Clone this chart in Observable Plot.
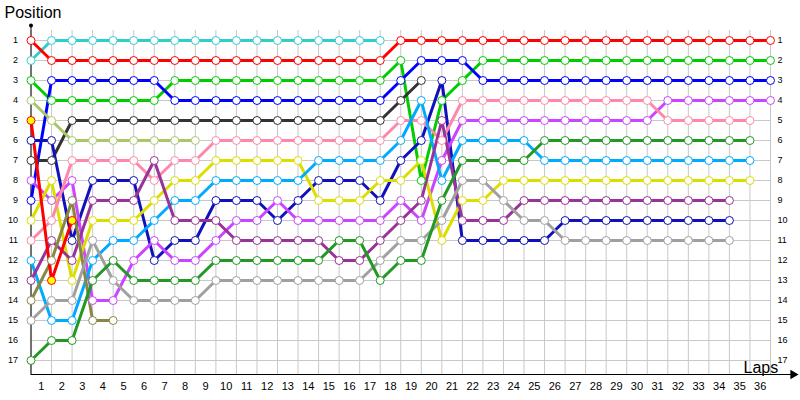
<!DOCTYPE html>
<html><head><meta charset="utf-8">
<script src="https://cdn.jsdelivr.net/npm/d3@7"></script>
<script src="https://cdn.jsdelivr.net/npm/@observablehq/plot@0.6"></script>
<style>body{margin:0;background:#fff} svg{display:block}</style>
</head><body><div id="chart"></div>
<script>
// Laps (x) and positions (y)
const laps = d3.range(0, 37);
const positions = d3.range(1, 18);
const lapLabels = d3.range(1, 37);

// Position of each driver at laps 0,1,2,... (until retirement / finish)
const red        = [1,2,2,2,2,2,2,2,2,2,2,2,2,2,2,2,2,2,1,1,1,1,1,1,1,1,1,1,1,1,1,1,1,1,1,1,1];
const cyan       = [2,1,1,1,1,1,1,1,1,1,1,1,1,1,1,1,1,1];
const green      = [3,4,4,4,4,4,4,3,3,3,3,3,3,3,3,3,3,3,2,8,4,3,2,2,2,2,2,2,2,2,2,2,2,2,2,2,2];
const blue       = [9,3,3,3,3,3,3,4,4,4,4,4,4,4,4,4,4,4,3,2,2,2,3,3,3,3,3,3,3,3,3,3,3,3,3,3,3];
const darkGrey   = [7,7,5,5,5,5,5,5,5,5,5,5,5,5,5,5,5,5,4,3];
const yellowGreen= [4,5,6,6,6,6,6,6,6];
const red2       = [5,13,10];
const navy       = [6,6,11,8,8,8,12,11,11,9,9,9,10,9,8,8,8,9,7,6,3,11,11,11,11,11,10,10,10,10,10,10,10,10,10];
const magenta    = [8,9,8,14,14,12,11,12,12,11,10,10,9,10,10,10,10,10,9,10,7,5,5,5,5,5,5,5,5,5,5,4,4,4,4,4,4];
const yellow     = [10,8,13,10,10,10,9,8,8,7,7,7,7,7,9,9,9,8,8,7,11,9,9,8,8,8,8,8,8,8,8,8,8,8,8,8];
const pink       = [11,10,7,7,7,7,8,7,7,6,6,6,6,6,6,6,6,6,5,5,6,4,4,4,4,4,4,4,4,4,4,5,5,5,5,5];
const lightBlue  = [12,15,15,12,11,11,10,9,9,8,8,8,8,8,7,7,7,7,6,4,8,6,6,6,6,7,7,7,7,7,7,7,7,7,7,7];
const purple     = [13,11,12,9,9,9,7,10,10,10,11,11,11,11,11,12,12,11,10,9,5,10,10,10,9,9,9,9,9,9,9,9,9,9,9];
const olive      = [14,12,9,15,15];
const grey       = [15,14,14,11,13,14,14,14,14,13,13,13,13,13,13,13,13,12,11,11,10,8,8,9,10,10,11,11,11,11,11,11,11,11,11];
const darkGreen  = [17,16,16,13,12,13,13,13,13,12,12,12,12,12,12,11,11,13,12,12,9,7,7,7,7,6,6,6,6,6,6,6,6,6,6,6];

const seriesNames  = ["cyan","red","green","blue","darkGrey","yellowGreen","navy","magenta","yellow","pink","lightBlue","purple","olive","grey","darkGreen","red2"];
const seriesValues = [cyan,red,green,blue,darkGrey,yellowGreen,navy,magenta,yellow,pink,lightBlue,purple,olive,grey,darkGreen,red2];
const seriesColors = ["#33cccc","#ff0000","#00cc00","#0000ff","#333333","#a8c868","#1111bb","#cc44ff","#dddd00","#ff88aa","#00aaff","#993399","#888844","#a0a0a0","#229922","#ff0000"];
const seriesFills  = ["#ffffff","#ffffff","#ffffff","#ffffff","#ffffff","#ffffff","#ffffff","#ffffff","#ffffff","#ffffff","#ffffff","#ffffff","#ffffff","#ffffff","#ffffff","#ffff00"];

const rows = seriesValues.flatMap((vals, s) => vals.map((p, i) => ({
  driver: seriesNames[s], lap: laps[i], pos: p, color: seriesColors[s], fill: seriesFills[s]
})));

const font = "Liberation Sans, Arial, sans-serif";

const chart = Plot.plot({
  width: 800, height: 400,
  marginLeft: 30.5, marginRight: 30, marginTop: 40, marginBottom: 40,
  style: {fontFamily: font, background: "#fff"},
  x: {domain: [0, 36], axis: null},
  y: {domain: [1, 17], reverse: true, axis: null},
  color: {type: "identity"},
  marks: [
    Plot.ruleX(laps, {x: d => d, y1: 0.5, y2: 17.7, stroke: "#c8c8c8", strokeWidth: 1}),
    Plot.ruleY(positions, {y: d => d, x1: 0, x2: 36, stroke: "#c8c8c8", strokeWidth: 1}),
    Plot.ruleX([0], {y1: 0.25, y2: 17.7, stroke: "#000", strokeWidth: 1}),
    Plot.dot([0], {x: 0, y: 0.25, r: 2, fill: "#000", stroke: null}),
    Plot.ruleY([17.7], {x1: 0, x2: 37.1, stroke: "#000", strokeWidth: 1}),
    Plot.dot([0], {x: 37.1, y: 17.7, symbol: "triangle", rotate: 90, r: 3.5, fill: "#000", stroke: null}),
    Plot.axisY({anchor: "left", ticks: positions, tickSize: 0, tickPadding: 13, fontSize: 9, label: null}),
    Plot.axisY({anchor: "right", ticks: positions, tickSize: 0, tickPadding: 7, fontSize: 9, label: null}),
    Plot.axisX({anchor: "bottom", ticks: lapLabels.map(d => d - 0.5), tickFormat: d => String(Math.round(d + 0.5)), tickSize: 0, tickPadding: 22, fontSize: 11, label: null}),
    Plot.line(rows, {x: "lap", y: "pos", z: "driver", stroke: "color", strokeWidth: 3, curve: "linear"}),
    Plot.dot(rows, {x: "lap", y: "pos", r: 4, fill: "fill", stroke: "color", strokeWidth: 1}),
    Plot.text(["Position"], {frameAnchor: "top-left", dx: -26.5, dy: -34, textAnchor: "start", lineAnchor: "top", fontSize: 16, fill: "#000"}),
    Plot.text(["Laps"], {frameAnchor: "bottom-right", dx: -27, dy: 12, textAnchor: "start", lineAnchor: "bottom", fontSize: 16, fill: "#000"})
  ]
});
document.getElementById("chart").append(chart);
</script>
</body></html>
